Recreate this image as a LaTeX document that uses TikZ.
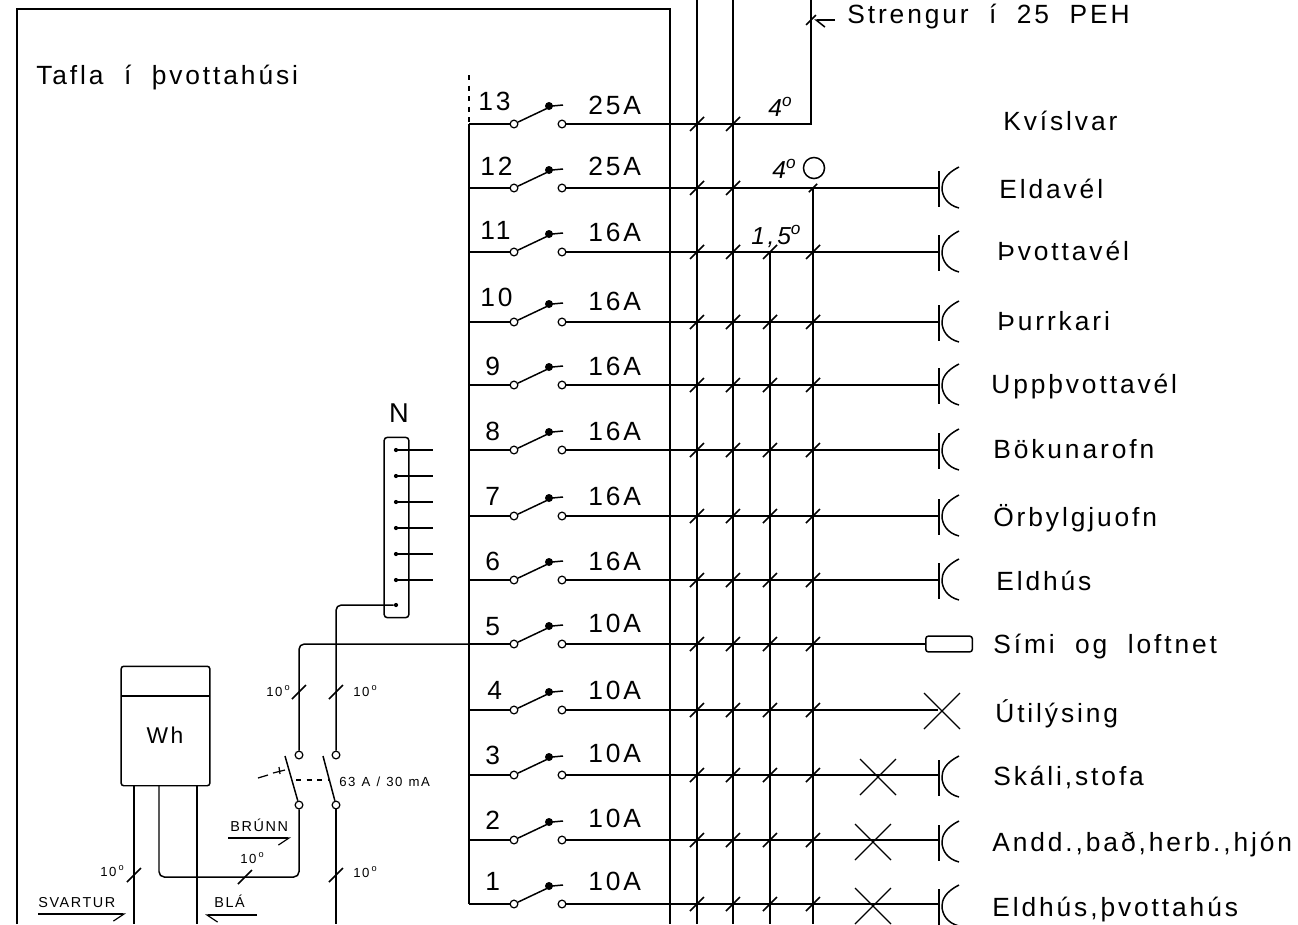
\documentclass[tikz,border=0pt]{standalone}
\usepackage{fontspec}
\setmainfont[LetterSpace=11,WordSpace=2]{Liberation Sans}
\usetikzlibrary{arrows.meta}
\tikzset{
  wire/.style = {line width=.85pt},
  contact/.style = {draw, circle, fill=white, inner sep=0pt, minimum size=4.4pt, line width=.7pt},
  pin/.style = {fill, circle, inner sep=0pt, minimum size=2.4pt},
  txt/.style = {anchor=base west, inner sep=0pt, font=\fontsize{15}{17}\selectfont},
  tiny/.style = {anchor=base west, inner sep=0pt, font=\fontsize{7.5}{9}\selectfont},
  caps/.style = {anchor=base west, inner sep=0pt, font=\fontsize{8.2}{10}\selectfont},
  hand/.style = {anchor=base west, inner sep=0pt, font=\fontsize{14}{16}\selectfont\itshape},
  slash/.pic = {\draw[wire] (-7,7)--(7,-7);},
  socket/.pic = {\draw[wire] (0,-17)--(0,19);
                 \draw[wire] (20,-21) .. controls (6,-14) and (3,-6) .. (3,0) .. controls (3,8) and (8,17) .. (20,20);},
  lamp/.pic = {\draw[line width=.7pt] (-18,-18)--(18,18); \draw[line width=.7pt] (-18,18)--(18,-18);}
}
\begin{document}
\begin{tikzpicture}[x=0.02cm,y=-0.02cm]
  \useasboundingbox (0,0) rectangle (1298,924);
  % panel outline
  \coordinate (pa) at (17,924); \coordinate (pb) at (17,9);
  \coordinate (pc) at (670,9); \coordinate (pd) at (670,924);
  \draw[wire] (pa)--(pb)--(pc)--(pd);
  \node[txt] (title) at (36,84) {Tafla í þvottahúsi};
  % cables
  \coordinate (ca) at (697,0); \coordinate (cb) at (733,0);
  \coordinate (ce) at (697,924); \coordinate (cf) at (733,924);
  \coordinate (cc) at (770,252); \coordinate (cd) at (813,188);
  \coordinate (cg) at (770,924); \coordinate (ch) at (813,924);
  \draw[wire] (ca)--(ce); \draw[wire] (cb)--(cf);
  \draw[wire] (cc)--(cg); \draw[wire] (cd)--(ch);
  % bus
  \coordinate (bustop) at (469,124); \coordinate (busend) at (469,904); \coordinate (dots) at (469,75);
  \draw[wire] (bustop)--(busend);
  \draw[line width=1.2pt,dash pattern=on 3pt off 3pt] (dots)--(bustop);
  % breakers
  \foreach \n/\y/\yn/\xn/\ya/\amp in {13/124/110/478/114/25A,12/188/175/480/175/25A,11/252/239/480/241/16A,
      10/322/306/480/310/16A,9/385/375/485/375/16A,8/450/440/485/440/16A,7/516/505/485/505/16A,
      6/580/570/485/570/16A,5/644/635/485/632/10A,4/710/699/487/699/10A,3/775/764/485/762/10A,
      2/840/829/485/827/10A,1/904/890/485/890/10A} {
    \coordinate (bus\n) at (469,\y);
    \node[contact] (a\n) at (514,\y) {};
    \node[contact] (b\n) at (562,\y) {};
    \coordinate (tip\n) at (563,\y-19);
    \coordinate (out\n) at (938,\y);
    \draw[wire] (bus\n)--(a\n);
    \draw[wire] (a\n)--(552,\y-18)--(tip\n);
    \fill (549,\y-18) circle [radius=4];
    \node[txt] (num\n) at (\xn,\yn) {\n};
    \node[txt] (amp\n) at (588,\ya) {\amp};
  }
  % outgoing lines
  \coordinate (up13) at (811,124); \coordinate (top13) at (811,0);
  \draw[wire] (b13)--(up13)--(top13);
  \foreach \n in {12,11,10,9,8,7,6,4,3,2,1} \draw[wire] (b\n)--(out\n);
  \coordinate (boxl) at (925,644);
  \draw[wire] (b5)--(boxl);
  \node[draw,wire,rounded corners=1.5pt,anchor=west,minimum width=26.5pt,minimum height=9pt,inner sep=0pt] (tel) at (boxl) {};
  % line ticks
  \foreach \y in {124,188,252,322,385,450,516,580,644,710,775,840,904} {
    \path (697,\y) pic {slash} (733,\y) pic {slash};
  }
  \foreach \y in {252,322,385,450,516,580,644,710,775,840,904} {
    \path (770,\y) pic {slash} (813,\y) pic {slash};
  }
  \path (813,188) pic[scale=.6] {slash};
  % sockets and lamps
  \foreach \y in {188,252,322,385,450,516,580,777,842,906} \path (939,\y) pic {socket};
  \path (942,711) pic {lamp} (878,777) pic {lamp} (873,842) pic {lamp} (873,906) pic {lamp};
  % loads
  \foreach \x/\y/\tx in {1003/130/Kvíslvar,999/198/Eldavél,997/260/Þvottavél,997/330/Þurrkari,
      991/393/Uppþvottavél,993/458/Bökunarofn,993/526/Örbylgjuofn,996/590/Eldhús,
      993/653/Sími og loftnet,995/722/Útilýsing,993/785/{Skáli,stofa},
      992/851/{Andd.,bað,herb.,hjón},992/916/{Eldhús,þvottahús}}
    \node[txt] at (\x,\y) {\tx};
  \node[txt] (streng) at (847,23) {Strengur í 25 PEH};
  \coordinate (sa) at (835,20); \coordinate (sb) at (814,20);
  \draw[wire,-{Straight Barb[left,length=5pt,width=8pt]}] (sa)--(sb);
  \path (811,20) pic[scale=.7] {slash};
  % sizes
  \node[hand] (s13) at (768,116) {4\textsuperscript{o}};
  \node[hand] (s12) at (772,178) {4\textsuperscript{o}};
  \node[draw,wire,circle,inner sep=0pt,minimum size=12pt] (ring) at (814,168) {};
  \node[hand] (s11) at (751,244) {1,5\textsuperscript{o}};
  % neutral bar
  \node[draw,wire,rounded corners=2pt,minimum width=14.2pt,minimum height=102.7pt,inner sep=0pt] (nbar) at (396.5,527.5) {};
  \node[anchor=base,inner sep=0pt,font=\fontsize{15.5}{17}\selectfont] (nlab) at (399,422) {N};
  \foreach \y in {450,476,502,528,554,580} {
    \node[pin] (p\y) at (396,\y) {};
    \coordinate (q\y) at (433,\y);
    \draw[wire] (p\y)--(q\y);
  }
  \node[pin] (p605) at (396,605) {};
  % earth leakage breaker
  \node[contact] (ra) at (299,755) {}; \node[contact] (rb) at (336,755) {};
  \node[contact] (rc) at (299,805) {}; \node[contact] (rd) at (336,805) {};
  \coordinate (na) at (336,605); \coordinate (nb) at (299,644);
  \coordinate (ba) at (285,756); \coordinate (bb) at (323,756);
  \draw[wire,rounded corners=3pt] (p605)--(na)--(rb);
  \draw[wire,rounded corners=3pt] (a5)--(nb)--(ra);
  \draw[wire] (ba)--(rc); \draw[wire] (bb)--(rd);
  \draw[line width=.7pt,dashed] (296,780)--(330,780);
  \draw[line width=.7pt] (258,778)--(268,775) (273,773)--(285,770) (279,767)--(280,774);
  \node[tiny] (rcd) at (339,786) {\spaceskip=3.5pt 63 A / 30 mA};
  \path (299,692) pic {slash} (336,692) pic {slash};
  \node[tiny] at (266,696) {10\,\textsuperscript{o}};
  \node[tiny] at (353,696) {10\,\textsuperscript{o}};
  % meter
  \node[draw,wire,rounded corners=1.5pt,minimum width=50.5pt,minimum height=68pt,inner sep=0pt] (meter) at (165.5,726) {};
  \coordinate (ma) at (121,696); \coordinate (mb) at (210,696);
  \draw[wire] (ma)--(mb);
  \node[inner sep=0pt,font=\fontsize{13}{15}\selectfont] (wh) at (165,735) {Wh};
  \coordinate (ia) at (134,786); \coordinate (ib) at (134,924);
  \coordinate (ic) at (197,786); \coordinate (id) at (197,924);
  \coordinate (ie) at (159,786); \coordinate (if) at (159,877); \coordinate (ig) at (299,877);
  \coordinate (ih) at (336,924);
  \draw[wire] (ia)--(ib); \draw[wire] (ic)--(id);
  \draw[wire,rounded corners=3pt] (ie)--(if)--(ig)--(rc);
  \draw[wire] (rd)--(ih);
  \path (134,875) pic {slash} (245,877) pic {slash} (336,875) pic {slash};
  \node[tiny] at (100,876) {10\,\textsuperscript{o}};
  \node[tiny] at (240,863) {10\,\textsuperscript{o}};
  \node[tiny] at (353,877) {10\,\textsuperscript{o}};
  % phase colours
  \node[caps] (brun) at (230,831) {BRÚNN};
  \node[caps] (svart) at (38,907) {SVARTUR};
  \node[caps] (bla) at (214,907) {BLÁ};
  \coordinate (ar1) at (228,838); \coordinate (ar2) at (291,838);
  \coordinate (ar3) at (38,914); \coordinate (ar4) at (126,914);
  \coordinate (ar5) at (257,915); \coordinate (ar6) at (205,915);
  \draw[line width=.7pt,-{Straight Barb[right,length=6pt,width=8pt]}] (ar1)--(ar2);
  \draw[line width=.7pt,-{Straight Barb[right,length=6pt,width=8pt]}] (ar3)--(ar4);
  \draw[line width=.7pt,-{Straight Barb[left,length=6pt,width=8pt]}] (ar5)--(ar6);
\end{tikzpicture}
\end{document}
